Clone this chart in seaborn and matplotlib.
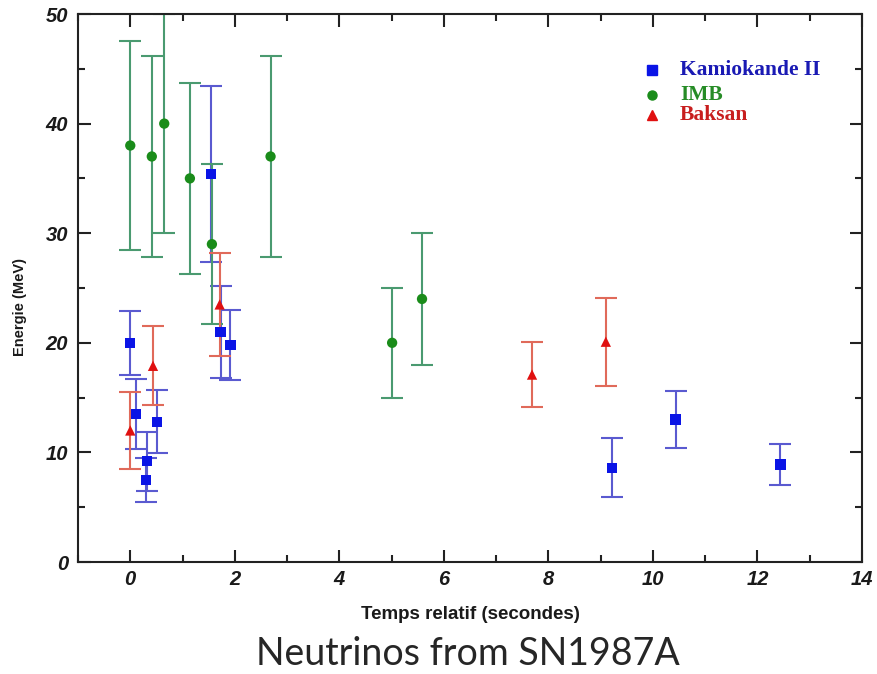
import matplotlib
matplotlib.use("Agg")
import matplotlib.pyplot as plt
import seaborn as sns
import pandas as pd
from matplotlib.ticker import MultipleLocator

# Data
kam_t = [0.0, 0.107, 0.303, 0.324, 0.507, 1.541, 1.728, 1.915, 9.219, 10.433, 12.439]
kam_e = [20.0, 13.5, 7.5, 9.2, 12.8, 35.4, 21.0, 19.8, 8.6, 13.0, 8.9]
kam_err = [2.9, 3.2, 2.0, 2.7, 2.9, 8.0, 4.2, 3.2, 2.7, 2.6, 1.9]

imb_t = [0.0, 0.412, 0.650, 1.141, 1.562, 2.684, 5.010, 5.582]
imb_e = [38.0, 37.0, 40.0, 35.0, 29.0, 37.0, 20.0, 24.0]
imb_err = [9.5, 9.2, 10.0, 8.7, 7.3, 9.2, 5.0, 6.0]

bak_t = [0.0, 0.435, 1.710, 7.687, 9.099]
bak_e = [12.0, 17.9, 23.5, 17.1, 20.1]
bak_err = [3.5, 3.6, 4.7, 3.0, 4.0]

names = ["Kamiokande II", "IMB", "Baksan"]
marker_colors = ["#0a14e6", "#1a8c1a", "#e01010"]
text_colors = ["#1a1ab4", "#268c26", "#c81e1e"]
bar_colors = ["#5a5ad0", "#4a9a70", "#e06a5a"]
markers = ["s", "o", "^"]

df = pd.concat([
    pd.DataFrame({"t": kam_t, "E": kam_e, "err": kam_err, "exp": names[0]}),
    pd.DataFrame({"t": imb_t, "E": imb_e, "err": imb_err, "exp": names[1]}),
    pd.DataFrame({"t": bak_t, "E": bak_e, "err": bak_err, "exp": names[2]}),
], ignore_index=True)

sns.set_theme(style="white")
plt.rcParams["font.family"] = ["Liberation Sans", "DejaVu Sans"]

fig = plt.figure(figsize=(8.77, 6.74), dpi=100)
ax = fig.add_axes([78/877, 1-562/674, (862-78)/877, (562-14)/674])

for name, bc in zip(names, bar_colors):
    d = df[df["exp"] == name]
    ax.errorbar(d["t"], d["E"], yerr=d["err"], fmt="none", ecolor=bc,
                elinewidth=1.5, capsize=8, capthick=1.5, zorder=2)

sns.scatterplot(data=df, x="t", y="E", hue="exp", style="exp",
                hue_order=names, style_order=names,
                palette=dict(zip(names, marker_colors)),
                markers=dict(zip(names, markers)), s=55, edgecolor="none",
                ax=ax, zorder=3, legend=False)

ax.set_xlim(-1, 14)
ax.set_ylim(0, 50)
ax.xaxis.set_major_locator(MultipleLocator(2))
ax.xaxis.set_minor_locator(MultipleLocator(1))
ax.yaxis.set_major_locator(MultipleLocator(10))
ax.yaxis.set_minor_locator(MultipleLocator(5))
ax.tick_params(which="both", direction="in", top=True, right=True,
               bottom=True, left=True, color="#222222", width=1.5)
ax.tick_params(which="major", length=9, labelsize=14.5)
ax.tick_params(axis="y", which="major", pad=7)
ax.tick_params(axis="x", which="major", pad=6)
ax.tick_params(which="minor", length=5)
for lab in ax.get_xticklabels() + ax.get_yticklabels():
    lab.set_fontweight("bold")
    lab.set_fontstyle("italic")
    lab.set_color("#1a1a1a")
for sp in ax.spines.values():
    sp.set_color("#222222")
    sp.set_linewidth(1.5)

ax.set_xlabel("Temps relatif (secondes)", fontsize=13.5, fontweight="bold",
              labelpad=12, color="#1a1a1a")
ax.set_ylabel("Energie (MeV)", fontsize=10.5, fontweight="bold",
              color="#1a1a1a")
ax.yaxis.set_label_coords(-51/784, 0.465)

# Legend
ly = [0.897, 0.853, 0.815]
for name, mc, tc, mk, y in zip(names, marker_colors, text_colors, markers, ly):
    ax.plot([0.732], [y], marker=mk, color=mc, markersize=6.5, ls="none",
            transform=ax.transAxes)
    ax.text(0.768, y, name, color=tc, fontsize=15.5, fontweight="bold",
            family=["Liberation Serif"], va="center", ha="left",
            transform=ax.transAxes)

fig.text(468/877, 1-654/674, "Neutrinos from SN1987A", fontsize=27,
         family=["Lato", "DejaVu Sans"], ha="center", va="center")

fig.savefig("out.png", dpi=100)
